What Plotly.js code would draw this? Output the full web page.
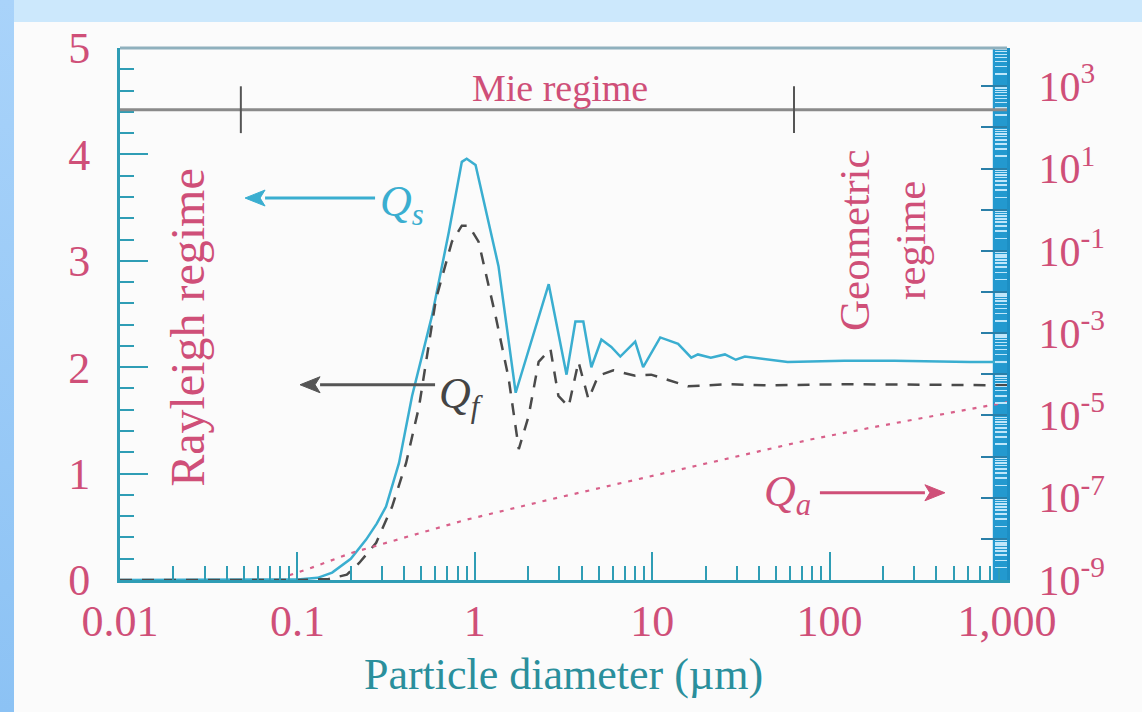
<!DOCTYPE html>
<html><head><meta charset="utf-8">
<script src="https://cdn.plot.ly/plotly-3.0.1.min.js"></script>
<style>
html,body{margin:0;padding:0;width:1142px;height:712px;overflow:hidden;background:#cce8fc;}
#bgL{position:absolute;left:0;top:0;width:14px;height:712px;background:linear-gradient(#a9d3fa,#8cc2f4);}
#panel{position:absolute;left:14px;top:22px;width:1128px;height:690px;background:#fbfbfb;}
#chart{position:absolute;left:0;top:0;width:1142px;height:712px;}
</style></head>
<body><div id="bgL"></div><div id="panel"></div><div id="chart"></div>
<script>
// Particle diameter (µm)
const qsDiam = [0.01,0.05,0.1,0.13,0.157,0.2,0.244,0.28,0.316,0.374,0.443,0.573,0.714,0.845,0.90,1.01,1.36,1.70,2.61,3.29,3.69,4.09,4.54,5.17,5.88,6.61,8.02,8.89,11.1,14.0,16.6,18.1,21.4,25.7,29.6,33.3,40.9,58,121,232,619,1000];
const qsVal  = [0,0,0.005,0.02,0.07,0.2,0.38,0.53,0.69,1.1,1.73,2.48,3.27,3.93,3.96,3.9,2.95,1.76,2.78,1.93,2.43,2.43,2.0,2.26,2.19,2.1,2.24,2.0,2.28,2.22,2.09,2.12,2.09,2.12,2.07,2.1,2.08,2.05,2.06,2.06,2.05,2.05];
const qfDiam = [0.01,0.1,0.15,0.19,0.223,0.278,0.342,0.41,0.485,0.503,0.604,0.743,0.845,0.925,1.05,1.31,1.55,1.77,2.01,2.29,2.67,2.96,3.38,3.84,4.37,4.97,6.04,8.02,9.86,12.3,15.9,26.7,44.9,126,619,1000];
const qfVal  = [0,0,0.01,0.05,0.16,0.35,0.69,1.1,1.63,1.8,2.64,3.18,3.33,3.33,3.18,2.48,1.9,1.23,1.54,2.05,2.17,1.73,1.63,2.05,1.7,1.92,1.97,1.92,1.93,1.88,1.82,1.84,1.83,1.84,1.83,1.83];
const qaDiam = [0.09,0.117,0.2,0.316,0.89,2.61,30.4,78,186,619,1000];
const qaVal  = [1.3e-9,1.9e-9,4.5e-9,8e-9,2.9e-8,8.9e-8,1.0e-6,2.6e-6,5.4e-6,1.4e-5,2.1e-5];
// axis ticks
const xTickVals = [0.01,0.1,1,10,100,1000];
const xTickText = ["0.01","0.1","1","10","100","1,000"];
const y2TickVals = [1e-9,1e-7,1e-5,1e-3,1e-1,10,1000];
const y2TickText = ["10<sup>-9</sup>","10<sup>-7</sup>","10<sup>-5</sup>","10<sup>-3</sup>","10<sup>-1</sup>","10<sup>1</sup>","10<sup>3</sup>"];
const y2EvenTicks = [1e-8,1e-6,1e-4,1e-2,1,100];
// regime markers
const regimeBounds = [0.048, 63];
const mieLevel = 4.42;

const PINK = '#cf4f78', TEAL = '#2f9db5', FONT = 'Liberation Serif, Times New Roman, serif';
const PW = 887, PH = 532;

const traces = [
  {x: qsDiam, y: qsVal, mode:'lines', line:{color:'#3aaed0', width:2.5}, name:'Qs'},
  {x: qfDiam, y: qfVal, mode:'lines', line:{color:'#4a4a4a', width:2.5, dash:'12px,10px'}, name:'Qf'},
  {x: qaDiam, y: qaVal, yaxis:'y2', mode:'lines', line:{color:'#d8608a', width:2.2, dash:'4px,7px'}, name:'Qa'}
];

function arrowShapes(hx, hy, lenPx, dir, color) {
  // dir = -1 : points left, +1 : points right
  const tx = hx - dir * lenPx / PW;
  const bx = hx - dir * 20 / PW;
  const dy = 8 / PH;
  return [
    {type:'line', xref:'paper', yref:'paper', x0:tx, x1:bx, y0:hy, y1:hy, line:{color:color, width:3}},
    {type:'path', xref:'paper', yref:'paper', path:`M ${hx} ${hy} L ${bx} ${hy+dy} L ${bx + dir*5/PW} ${hy} L ${bx} ${hy-dy} Z`, fillcolor:color, line:{color:color, width:1}}
  ];
}

const shapes = [
  {type:'rect', xref:'paper', yref:'paper', x0:0.984, x1:1.0, y0:0, y1:1, fillcolor:'#2399cf', line:{width:0}, layer:'below'},
  {type:'line', xref:'paper', yref:'paper', x0:0, x1:1, y0:1, y1:1, line:{color:'#8fb0bd', width:3}},
  {type:'line', xref:'paper', yref:'y', x0:0, x1:1, y0:mieLevel, y1:mieLevel, line:{color:'#8a8a8a', width:3}},
  {type:'line', xref:'x', yref:'y', x0:regimeBounds[0], x1:regimeBounds[0], y0:mieLevel-0.22, y1:mieLevel+0.22, line:{color:'#555', width:2}},
  {type:'line', xref:'x', yref:'y', x0:regimeBounds[1], x1:regimeBounds[1], y0:mieLevel-0.22, y1:mieLevel+0.22, line:{color:'#555', width:2}},
  ...arrowShapes(0.141, 0.718, 130, -1, '#3aaed0'),
  ...arrowShapes(0.203, 0.367, 135, -1, '#555'),
  ...arrowShapes(0.930, 0.164, 125, 1, PINK)
];

function txt(x, y, text, size, color, angle) {
  return {xref:'paper', yref:'paper', x:x, y:y, xanchor:'center', yanchor:'middle', text:text,
    textangle:angle||0, showarrow:false, font:{family:FONT, size:size, color:color}};
}
const ann = [
  txt(0.496, 0.925, 'Mie regime', 38, PINK),
  txt(0.0767, 0.474, 'Rayleigh regime', 48, PINK, -90),
  txt(0.859, 0.639, 'Geometric<br>regime', 43, PINK, -90),
  txt(0.318, 0.705, '<i>Q<sub>s</sub></i>', 44, '#3aaed0'),
  txt(0.385, 0.345, '<i>Q<sub>f</sub></i>', 44, '#444'),
  txt(0.752, 0.160, '<i>Q<sub>a</sub></i>', 44, PINK)
];

const layout = {
  width:1142, height:712,
  margin:{l:120, r:135, t:48, b:132},
  paper_bgcolor:'rgba(0,0,0,0)', plot_bgcolor:'rgba(0,0,0,0)',
  showlegend:false,
  font:{family:FONT},
  xaxis:{type:'log', range:[-2,3], showgrid:false, zeroline:false,
    showline:true, linecolor:TEAL, linewidth:3,
    tickmode:'array', tickvals:xTickVals, ticktext:xTickText,
    ticks:'inside', ticklen:28, tickwidth:2, tickcolor:TEAL,
    minor:{dtick:'D1', ticks:'inside', ticklen:14, tickwidth:2, tickcolor:TEAL, showgrid:false},
    tickfont:{family:FONT, size:44, color:PINK},
    title:{text:'Particle diameter (µm)', font:{family:FONT, size:44, color:'#2a8f9c'}, standoff:14}},
  yaxis:{range:[0,5], showgrid:false, zeroline:false,
    showline:true, linecolor:TEAL, linewidth:3,
    tickmode:'linear', tick0:0, dtick:1,
    ticks:'inside', ticklen:28, tickwidth:2, tickcolor:TEAL,
    minor:{dtick:0.2, ticks:'inside', ticklen:14, tickwidth:2, tickcolor:TEAL, showgrid:false},
    tickfont:{family:FONT, size:44, color:PINK}, ticklabelstandoff:18},
  yaxis2:{type:'log', range:[-9,3.93], overlaying:'y', side:'right', showgrid:false, zeroline:false,
    showline:true, linecolor:'#1d8fc4', linewidth:3,
    tickmode:'array', tickvals:y2TickVals, ticktext:y2TickText,
    ticks:'inside', ticklen:26, tickwidth:2, tickcolor:'#2a7fa8',
    minor:{dtick:'D1', ticks:'inside', ticklen:12, tickwidth:1.5, tickcolor:'#bfe6fa', showgrid:false},
    tickfont:{family:FONT, size:42, color:PINK}, ticklabelstandoff:20},
  yaxis3:{type:'log', range:[-9,3.93], overlaying:'y', side:'right', showgrid:false, zeroline:false,
    showline:false, tickmode:'array', tickvals:y2EvenTicks, showticklabels:false,
    ticks:'inside', ticklen:26, tickwidth:2, tickcolor:'#2a7fa8'},
  shapes:shapes,
  annotations:ann
};
// invisible helper trace so the even-decade tick axis is drawn
traces.push({x:[qaDiam[0]], y:[qaVal[0]], yaxis:'y3', mode:'markers', marker:{opacity:0}, showlegend:false});
Plotly.newPlot('chart', traces, layout, {staticPlot:true, displayModeBar:false});
</script></body></html>
